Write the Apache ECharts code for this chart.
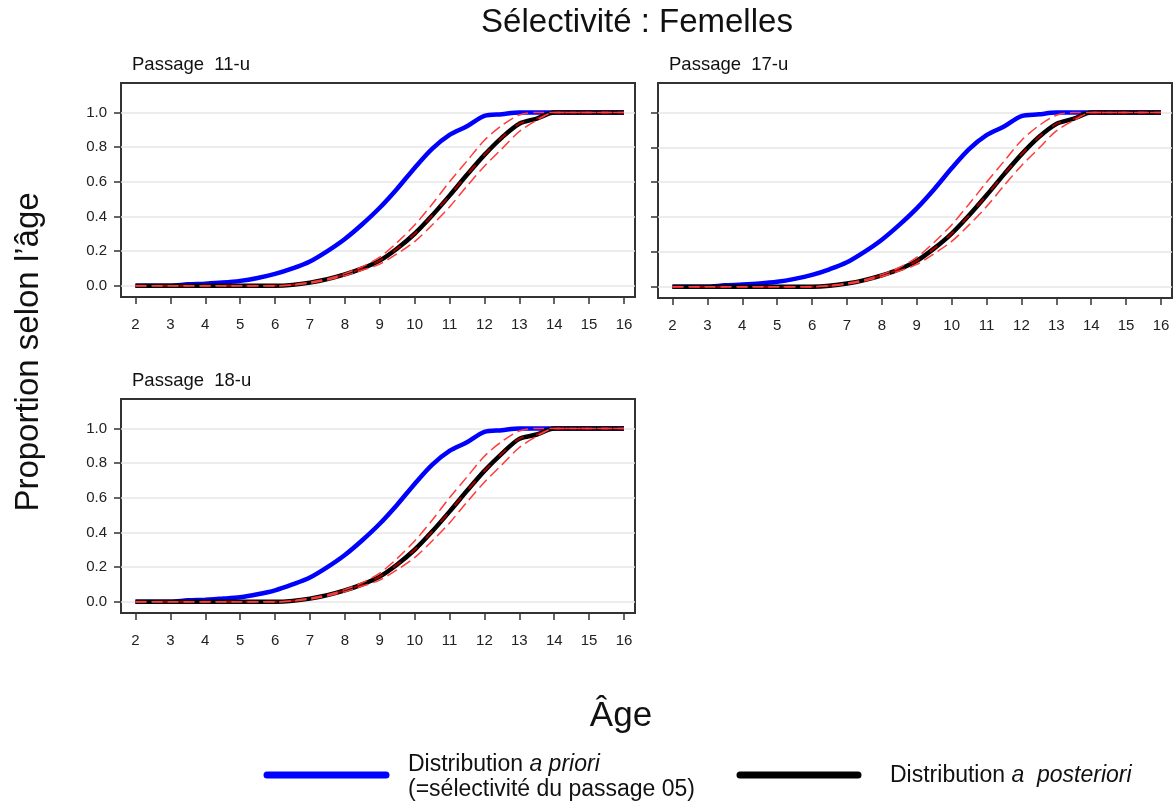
<!DOCTYPE html>
<html>
<head>
<meta charset="utf-8">
<script src="https://cdn.jsdelivr.net/npm/echarts@6/dist/echarts.min.js"></script>
<style>html,body{margin:0;padding:0;background:#fff}#c{width:1174px;height:807px}</style>
</head>
<body>
<div id="c"></div>
<script>
// ---- data ----
const ages = [2,2.5,3,3.5,4,4.5,5,5.5,6,6.5,7,7.5,8,8.5,9,9.5,10,10.5,11,11.5,12,12.5,13,13.5,14,14.5,15,15.5,16];
const xTicks = [2,3,4,5,6,7,8,9,10,11,12,13,14,15,16];
const yTicks = [0,0.2,0.4,0.6,0.8,1.0];
const panelTitles = ['Passage  11-u','Passage  17-u','Passage  18-u'];

// a priori (selectivity of passage 05) - same in each panel
const prior11 = [0,0,0,0.008,0.012,0.018,0.028,0.045,0.068,0.1,0.14,0.2,0.27,0.355,0.45,0.56,0.68,0.79,0.87,0.92,0.98,0.99,1,1,1,1,1,1,1];
const prior17 = [0,0,0,0.008,0.012,0.018,0.028,0.045,0.068,0.1,0.14,0.2,0.27,0.355,0.45,0.56,0.68,0.79,0.87,0.92,0.98,0.99,1,1,1,1,1,1,1];
const prior18 = [0,0,0,0.008,0.012,0.018,0.026,0.043,0.066,0.1,0.14,0.2,0.27,0.355,0.45,0.56,0.68,0.79,0.87,0.92,0.98,0.99,1,1,1,1,1,1,1];

// a posteriori
const post11 = [0,0,0,0,0,0,0,0,0,0.005,0.018,0.038,0.065,0.1,0.145,0.215,0.3,0.405,0.52,0.64,0.755,0.855,0.935,0.965,1,1,1,1,1];
const post17 = [0,0,0,0,0,0,0,0,0,0.005,0.018,0.038,0.065,0.1,0.148,0.22,0.305,0.41,0.525,0.645,0.76,0.86,0.935,0.965,1,1,1,1,1];
const post18 = [0,0,0,0,0,0,0,0,0,0.005,0.018,0.038,0.065,0.1,0.145,0.215,0.3,0.405,0.52,0.64,0.755,0.855,0.94,0.965,1,1,1,1,1];

// credible interval bounds
const upper11 = [0,0,0,0,0,0,0,0,0,0.006,0.02,0.04,0.07,0.11,0.165,0.25,0.35,0.47,0.6,0.72,0.84,0.925,0.985,1,1,1,1,1,1];
const lower11 = [0,0,0,0,0,0,0,0,0,0.004,0.015,0.033,0.058,0.09,0.125,0.185,0.255,0.35,0.455,0.575,0.69,0.79,0.89,0.955,1,1,1,1,1];
const upper17 = [0,0,0,0,0,0,0,0,0,0.006,0.02,0.04,0.07,0.11,0.168,0.255,0.355,0.475,0.6,0.72,0.84,0.925,0.985,1,1,1,1,1,1];
const lower17 = [0,0,0,0,0,0,0,0,0,0.004,0.015,0.033,0.058,0.09,0.128,0.19,0.26,0.355,0.46,0.58,0.695,0.795,0.895,0.955,1,1,1,1,1];
const upper18 = [0,0,0,0,0,0,0,0,0,0.006,0.02,0.04,0.07,0.11,0.165,0.25,0.35,0.47,0.6,0.72,0.84,0.925,0.985,1,1,1,1,1,1];
const lower18 = [0,0,0,0,0,0,0,0,0,0.004,0.015,0.033,0.058,0.09,0.125,0.185,0.255,0.35,0.455,0.575,0.69,0.79,0.89,0.955,1,1,1,1,1];

const panels = [
  {prior: prior11, post: post11, up: upper11, lo: lower11},
  {prior: prior17, post: post17, up: upper17, lo: lower17},
  {prior: prior18, post: post18, up: upper18, lo: lower18}
];

// ---- layout ----
const grids = [
  {left: 121, top: 83, width: 514, height: 214},
  {left: 658, top: 83, width: 514, height: 215},
  {left: 121, top: 399, width: 514, height: 214}
];
const FONT = 'Liberation Sans, Arial, sans-serif';
const pair = v => ages.map((a, i) => [a, v[i]]);

const xAxis = [], yAxis = [], series = [], title = [];
grids.forEach((g, k) => {
  xAxis.push({
    type: 'value', gridIndex: k, min: 1.585, max: 16.315, position: 'bottom',
    axisLine: {show: false, onZero: false},
    axisTick: {show: true, length: 7, customValues: xTicks, lineStyle: {color: '#333', width: 1.5}},
    axisLabel: {customValues: xTicks, color: '#222', fontSize: 15, fontFamily: FONT, margin: 20},
    splitLine: {show: false}
  });
  yAxis.push({
    type: 'value', gridIndex: k, min: -0.065, max: 1.17, position: 'left',
    axisLine: {show: false, onZero: false},
    axisTick: {show: true, length: 7, customValues: yTicks, lineStyle: {color: '#333', width: 1.5}},
    axisLabel: {show: k !== 1, customValues: yTicks, color: '#222', fontSize: 15, fontFamily: FONT, margin: 14,
      formatter: v => v.toFixed(1)},
    splitLine: {show: true, lineStyle: {color: '#e6e6e6', width: 1.5}}
  });
  const p = panels[k];
  series.push(
    {type: 'line', xAxisIndex: k, yAxisIndex: k, data: pair(p.prior), showSymbol: false, smooth: 0.3,
      lineStyle: {color: '#0000ff', width: 4.5}, z: 2},
    {type: 'line', xAxisIndex: k, yAxisIndex: k, data: pair(p.post), showSymbol: false, smooth: 0.3,
      lineStyle: {color: '#000000', width: 4.5}, z: 3},
    {type: 'line', xAxisIndex: k, yAxisIndex: k, data: pair(p.post), showSymbol: false, smooth: 0.3,
      lineStyle: {color: '#a00000', width: 2, type: [10, 12]}, z: 4},
    {type: 'line', xAxisIndex: k, yAxisIndex: k, data: pair(p.up), showSymbol: false, smooth: 0.3,
      lineStyle: {color: '#ff3b3b', width: 1.5, type: [11, 5]}, z: 5},
    {type: 'line', xAxisIndex: k, yAxisIndex: k, data: pair(p.lo), showSymbol: false, smooth: 0.3,
      lineStyle: {color: '#ff3b3b', width: 1.5, type: [11, 5]}, z: 5}
  );
  title.push({text: panelTitles[k], left: g.left + 11, top: g.top - 28, padding: 0,
    textStyle: {fontSize: 18.5, fontWeight: 'normal', color: '#111', fontFamily: FONT}});
});

const chart = echarts.init(document.getElementById('c'), null, {renderer: 'canvas'});
chart.setOption({
  backgroundColor: '#fff',
  animation: false,
  title: title,
  grid: grids.map(g => Object.assign({show: true, borderColor: '#333', borderWidth: 2, backgroundColor: 'transparent'}, g)),
  xAxis: xAxis,
  yAxis: yAxis,
  series: series,
  graphic: [
    {type: 'text', x: 637, y: 23,
      style: {text: 'Sélectivité : Femelles', font: '33px ' + FONT, fill: '#111', align: 'center', verticalAlign: 'middle'}},
    {type: 'text', x: 29, y: 352, rotation: Math.PI / 2,
      style: {text: 'Proportion selon l\u2019âge', font: '33px ' + FONT, fill: '#111', align: 'center', verticalAlign: 'middle'}},
    {type: 'text', x: 621, y: 716,
      style: {text: 'Âge', font: '35px ' + FONT, fill: '#111', align: 'center', verticalAlign: 'middle'}},
    {type: 'line', shape: {x1: 267, y1: 775, x2: 386, y2: 775},
      style: {stroke: '#0000ff', lineWidth: 7, lineCap: 'round'}},
    {type: 'line', shape: {x1: 740, y1: 775, x2: 858, y2: 775},
      style: {stroke: '#000000', lineWidth: 7, lineCap: 'round'}},
    {type: 'text', x: 408, y: 752,
      style: {text: '{n|Distribution }{i|a priori}\n{n|(=sélectivité du passage 05)}',
        rich: {n: {fontSize: 23, fontFamily: FONT, fill: '#111', lineHeight: 25},
               i: {fontSize: 23, fontStyle: 'italic', fontFamily: FONT, fill: '#111', lineHeight: 25}}}},
    {type: 'text', x: 890, y: 764,
      style: {text: '{n|Distribution }{i|a  posteriori}',
        rich: {n: {fontSize: 23, fontFamily: FONT, fill: '#111'},
               i: {fontSize: 23, fontStyle: 'italic', fontFamily: FONT, fill: '#111'}}}}
  ]
});
</script>
</body>
</html>
